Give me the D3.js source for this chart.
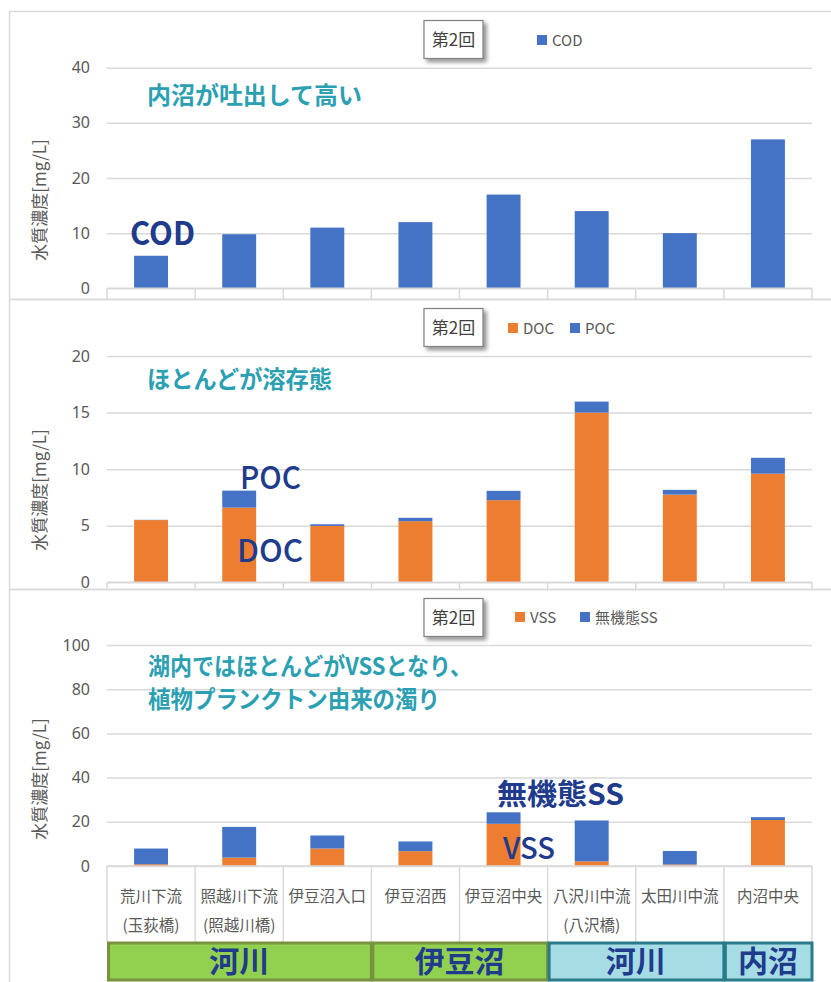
<!DOCTYPE html>
<html>
<head>
<meta charset="utf-8">
<script src="https://cdn.jsdelivr.net/npm/d3@7"></script>
<style>
  body { margin: 0; background: #fff; }
  svg { display: block; }
  text { font-family: "Noto Sans CJK JP", "Noto Sans", sans-serif; }
</style>
</head>
<body>
<svg id="chart" width="831" height="982"></svg>
<script>
// ---------- data ----------
const categories = ["荒川下流(玉荻橋)", "照越川下流(照越川橋)", "伊豆沼入口", "伊豆沼西", "伊豆沼中央", "八沢川中流(八沢橋)", "太田川中流", "内沼中央"];
const categoryLine1 = ["荒川下流", "照越川下流", "伊豆沼入口", "伊豆沼西", "伊豆沼中央", "八沢川中流", "太田川中流", "内沼中央"];
const categoryLine2 = ["(玉荻橋)", "(照越川橋)", "", "", "", "(八沢橋)", "", ""];

const codValues = [5.9, 9.8, 11, 12, 17, 14, 10, 27];
const docValues = [5.5, 6.6, 4.98, 5.4, 7.26, 15.0, 7.75, 9.6];
const pocValues = [0.02, 1.5, 0.15, 0.3, 0.82, 0.97, 0.42, 1.4];
const vssValues = [0.8, 3.8, 7.9, 6.7, 19.1, 2.1, 0.7, 20.8];
const inorgSSValues = [7.1, 13.9, 5.9, 4.4, 5.2, 18.5, 6.1, 1.3];

const codTicks = [0, 10, 20, 30, 40];
const carbonTicks = [0, 5, 10, 15, 20];
const ssTicks = [0, 20, 40, 60, 80, 100];

const groupLabels = ["河川", "伊豆沼", "河川", "内沼"];
const groupSpans = [3, 2, 2, 1];

const roundLabel = "第2回";
const yTitle = "水質濃度[mg/L]";

// ---------- style ----------
const BLUE = "#4472C4", ORANGE = "#ED7D31";
const GRID = "#D9D9D9", LABEL = "#595959";
const TEAL = "#2BA0B2", NAVY = "#203A8C";

const svg = d3.select("#chart");
const defs = svg.append("defs");
const f = defs.append("filter").attr("id", "shadow").attr("x", "-20%").attr("y", "-20%").attr("width", "150%").attr("height", "160%");
f.append("feDropShadow").attr("dx", 3).attr("dy", 3).attr("stdDeviation", 2).attr("flood-color", "#000").attr("flood-opacity", 0.45);

const x = d3.scaleBand().domain(categories).range([107, 812]).paddingInner(0.615).paddingOuter(0.3075);
const step = x.step();
const bound = i => 107 + i * step;

function panel(cfg) {
  const g = svg.append("g");
  // frame
  g.append("rect").attr("x", 9.5).attr("y", cfg.frameTop + 0.5)
    .attr("width", 840).attr("height", cfg.frameBottom - cfg.frameTop)
    .attr("fill", "none").attr("stroke", GRID).attr("stroke-width", 1.5);

  const y = d3.scaleLinear().domain(cfg.domain).range([cfg.y0, cfg.yTop]);

  // gridlines + tick labels via axis
  const ax = g.append("g").attr("transform", "translate(107,0)")
    .call(d3.axisLeft(y).tickValues(cfg.ticks).tickSize(-705).tickPadding(17).tickFormat(d3.format("d")));
  ax.select(".domain").remove();
  ax.selectAll(".tick line").attr("stroke", GRID).attr("stroke-width", 1.5);
  ax.selectAll(".tick text").attr("fill", LABEL).style("font-size", "16px")
    .style("font-family", "'Noto Sans', 'Noto Sans CJK JP', sans-serif");

  // category tick separators
  g.selectAll(".sep").data(d3.range(categories.length + 1)).join("line")
    .attr("x1", i => bound(i)).attr("x2", i => bound(i))
    .attr("y1", cfg.y0).attr("y2", cfg.sepBottom)
    .attr("stroke", GRID).attr("stroke-width", 1.5);

  // stacked bars
  const stackKeys = cfg.series.map((s, i) => i);
  const rows = categories.map((c, j) => {
    const r = { cat: c };
    cfg.series.forEach((s, i) => r[i] = s.values[j]);
    return r;
  });
  const stacked = d3.stack().keys(stackKeys)(rows);
  stacked.forEach((layer, i) => {
    g.append("g").selectAll("rect").data(layer).join("rect")
      .attr("x", d => x(d.data.cat)).attr("width", x.bandwidth())
      .attr("y", d => y(d[1])).attr("height", d => Math.max(0, y(d[0]) - y(d[1])))
      .attr("fill", cfg.series[i].color);
  });

  // x axis line
  g.append("line").attr("x1", 107).attr("x2", 812).attr("y1", cfg.y0).attr("y2", cfg.y0)
    .attr("stroke", GRID).attr("stroke-width", 1.5);

  // y title
  g.append("text").attr("transform", `translate(46,${cfg.titleY}) rotate(-90)`)
    .attr("text-anchor", "middle").attr("fill", LABEL).style("font-size", "17px").text(yTitle);

  // round box
  const bx = 424, by = cfg.frameTop + 9.5;
  g.append("rect").attr("x", bx).attr("y", by).attr("width", 59).attr("height", 38)
    .attr("fill", "#fff").attr("stroke", "#7F7F7F").attr("stroke-width", 1.2).attr("filter", "url(#shadow)");
  g.append("text").attr("x", bx + 29.5).attr("y", by + 25).attr("text-anchor", "middle")
    .attr("fill", "#404040").style("font-size", "17px").text(roundLabel);

  // legend
  const lg = g.append("g");
  let lx = cfg.legendX;
  cfg.series.forEach((s, i) => {
    lg.append("rect").attr("x", lx).attr("y", cfg.legendY - 5).attr("width", 10).attr("height", 10).attr("fill", s.color);
    const t = lg.append("text").attr("x", lx + 15).attr("y", cfg.legendY + 5.5).attr("fill", LABEL)
      .style("font-size", "15px").text(s.name);
    lx += cfg.legendGap[i];
  });

  // annotations
  cfg.notes.forEach(n => {
    g.append("text").attr("x", n.x).attr("y", n.y).attr("fill", n.color)
      .style("font-size", n.size + "px").style("font-weight", n.weight)
      .attr("textLength", n.len || null).attr("lengthAdjust", "spacingAndGlyphs")
      .text(n.text);
  });
  return g;
}

panel({
  frameTop: 11, frameBottom: 299, y0: 288.3, yTop: 67.7, domain: [0, 40], ticks: codTicks,
  sepBottom: 299, titleY: 200,
  series: [{ name: "COD", values: codValues, color: BLUE }],
  legendX: 537, legendY: 40, legendGap: [60],
  notes: [
    { text: "内沼が吐出して高い", x: 147, y: 104, size: 24, weight: 700, color: TEAL, len: 215 },
    { text: "COD", x: 130, y: 245, size: 32, weight: 700, color: NAVY, len: 65 }
  ]
});

panel({
  frameTop: 299, frameBottom: 589, y0: 582.3, yTop: 356, domain: [0, 20], ticks: carbonTicks,
  sepBottom: 589, titleY: 490,
  series: [{ name: "DOC", values: docValues, color: ORANGE }, { name: "POC", values: pocValues, color: BLUE }],
  legendX: 508, legendY: 328, legendGap: [62, 60],
  notes: [
    { text: "ほとんどが溶存態", x: 147, y: 388, size: 24, weight: 700, color: TEAL, len: 185 },
    { text: "POC", x: 240, y: 489, size: 31, weight: 500, color: NAVY, len: 61 },
    { text: "DOC", x: 237, y: 562, size: 31, weight: 500, color: NAVY, len: 66 }
  ]
});

const p3 = panel({
  frameTop: 589, frameBottom: 1100, y0: 866, yTop: 645, domain: [0, 100], ticks: ssTicks,
  sepBottom: 942, titleY: 779,
  series: [{ name: "VSS", values: vssValues, color: ORANGE }, { name: "無機態SS", values: inorgSSValues, color: BLUE }],
  legendX: 515, legendY: 617, legendGap: [65, 80],
  notes: [
    { text: "湖内ではほとんどがVSSとなり、", x: 148, y: 675, size: 24, weight: 700, color: TEAL, len: 324 },
    { text: "植物プランクトン由来の濁り", x: 148, y: 708, size: 24, weight: 700, color: TEAL, len: 292 },
    { text: "無機態SS", x: 497, y: 805, size: 29, weight: 700, color: NAVY, len: 127 },
    { text: "VSS", x: 503, y: 859, size: 30, weight: 500, color: NAVY, len: 52 }
  ]
});

// category labels
const lab = svg.append("g").attr("fill", LABEL).style("font-size", "15.5px").attr("text-anchor", "middle");
categories.forEach((c, i) => {
  const cx = x(c) + x.bandwidth() / 2;
  lab.append("text").attr("x", cx).attr("y", 902).text(categoryLine1[i]);
  if (categoryLine2[i]) lab.append("text").attr("x", cx).attr("y", 931).text(categoryLine2[i]);
});

// group boxes
const groupFill = ["#92D050", "#92D050", "#A6DDE5", "#A6DDE5"];
const groupStroke = ["#77933C", "#77933C", "#2A7B89", "#2A7B89"];
let start = 0;
const gg = svg.append("g");
groupLabels.forEach((lbl, i) => {
  const x0 = bound(start), x1 = bound(start + groupSpans[i]);
  gg.append("rect").attr("x", x0 + 1.5).attr("y", 943).attr("width", x1 - x0 - 1.5).attr("height", 37)
    .attr("fill", groupFill[i]).attr("stroke", groupStroke[i]).attr("stroke-width", 3);
  gg.append("text").attr("x", (x0 + x1) / 2).attr("y", 972).attr("text-anchor", "middle")
    .attr("fill", NAVY).style("font-size", "30px").style("font-weight", 700).text(lbl);
  start += groupSpans[i];
});
</script>
</body>
</html>
